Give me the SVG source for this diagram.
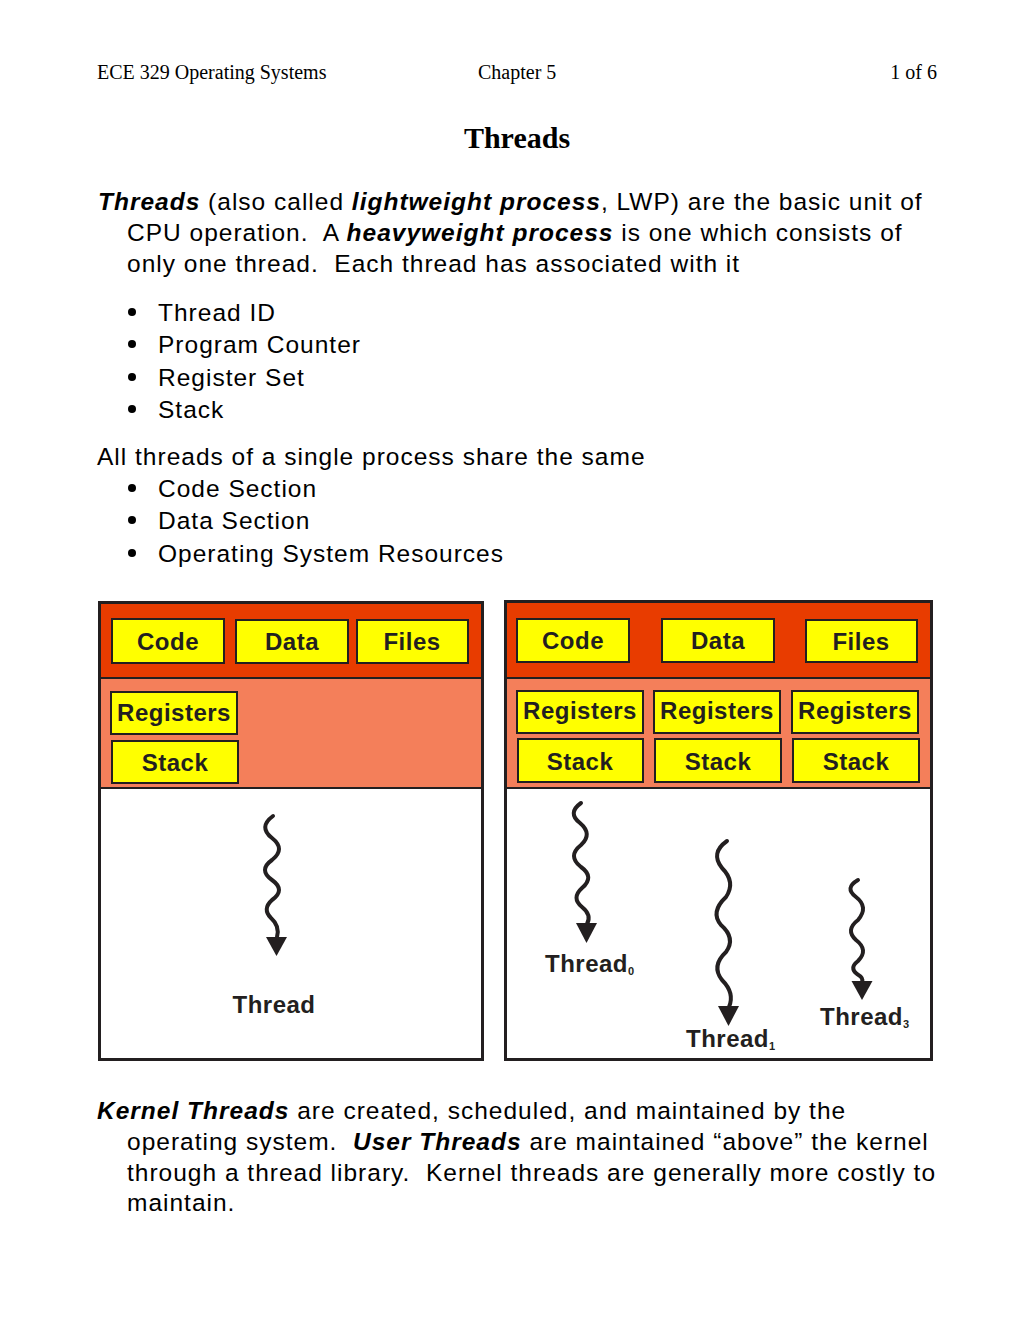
<svg xmlns="http://www.w3.org/2000/svg" width="1020" height="1320" viewBox="0 0 1020 1320">
<style>
.hdr{font-family:"Liberation Serif","Times New Roman",serif;font-size:20px;fill:#000}
.title{font-family:"Liberation Serif","Times New Roman",serif;font-size:30px;font-weight:bold;fill:#000}
.body{font-family:"Liberation Sans",Arial,sans-serif;font-size:24.5px;letter-spacing:1px;fill:#000;white-space:pre}
.bi{font-weight:bold;font-style:italic}
.frame{fill:none;stroke:#231f20;stroke-width:3}
.top{fill:#e83c00}
.mid{fill:#f47f5a}
.div{stroke:#231f20;stroke-width:2}
.box{fill:#ffff00;stroke:#231f20;stroke-width:2}
.lbl{font-family:"Liberation Sans",Arial,sans-serif;font-size:24px;font-weight:bold;letter-spacing:0.5px;fill:#231f20;text-anchor:middle}
.tl{font-family:"Liberation Sans",Arial,sans-serif;font-size:24px;font-weight:bold;letter-spacing:0.5px;fill:#231f20}
.sub{font-size:11px}
.wave{fill:none;stroke:#231f20;stroke-width:4;stroke-linecap:round}
.head{fill:#231f20}
</style>
<rect width="1020" height="1320" fill="#fff"/>
<g id="header">
<text class="hdr" x="97" y="79">ECE 329 Operating Systems</text>
<text class="hdr" x="478" y="79">Chapter 5</text>
<text class="hdr" x="937" y="79" text-anchor="end">1 of 6</text>
<text class="title" x="517" y="148" text-anchor="middle">Threads</text>
</g>
<g id="intro">
<text class="body" xml:space="preserve" x="98" y="210"><tspan class="bi">Threads</tspan> (also called <tspan class="bi">lightweight process</tspan>, LWP) are the basic unit of</text>
<text class="body" xml:space="preserve" x="127" y="241">CPU operation.  A <tspan class="bi">heavyweight process</tspan> is one which consists of</text>
<text class="body" xml:space="preserve" x="127" y="272">only one thread.  Each thread has associated with it</text>
<circle cx="132" cy="312" r="4"/><text class="body" x="158" y="321">Thread ID</text>
<circle cx="132" cy="344" r="4"/><text class="body" x="158" y="353">Program Counter</text>
<circle cx="132" cy="377" r="4"/><text class="body" x="158" y="386">Register Set</text>
<circle cx="132" cy="409" r="4"/><text class="body" x="158" y="418">Stack</text>
<text class="body" x="97" y="465">All threads of a single process share the same</text>
<circle cx="132" cy="488" r="4"/><text class="body" x="158" y="497">Code Section</text>
<circle cx="132" cy="520" r="4"/><text class="body" x="158" y="529">Data Section</text>
<circle cx="132" cy="553" r="4"/><text class="body" x="158" y="562">Operating System Resources</text>
</g>
<g id="single-process">
<rect class="top" x="101" y="604" width="380" height="74"/>
<rect class="mid" x="101" y="678" width="380" height="110"/>
<line class="div" x1="101" y1="678" x2="481" y2="678"/>
<line class="div" x1="101" y1="788" x2="481" y2="788"/>
<rect class="frame" x="99.5" y="602.5" width="383" height="457"/>
<g id="s-code"><rect class="box" x="112" y="619" width="112" height="44"/><text class="lbl" x="168" y="650">Code</text></g>
<g id="s-data"><rect class="box" x="236" y="620" width="112" height="43"/><text class="lbl" x="292" y="650">Data</text></g>
<g id="s-files"><rect class="box" x="357" y="620" width="111" height="43"/><text class="lbl" x="412" y="650">Files</text></g>
<g id="s-reg"><rect class="box" x="111" y="692" width="126" height="42"/><text class="lbl" x="174" y="721">Registers</text></g>
<g id="s-stack"><rect class="box" x="112" y="741" width="126" height="42"/><text class="lbl" x="175" y="771">Stack</text></g>
<g id="s-thread"><text class="tl" x="274" y="1013" text-anchor="middle">Thread</text></g>
</g>
<g id="multi-process">
<rect class="top" x="507" y="603" width="424" height="75"/>
<rect class="mid" x="507" y="678" width="424" height="110"/>
<line class="div" x1="507" y1="678" x2="931" y2="678"/>
<line class="div" x1="507" y1="788" x2="931" y2="788"/>
<rect class="frame" x="505.5" y="601.5" width="426" height="458"/>
<g id="m-code"><rect class="box" x="517" y="619" width="112" height="43"/><text class="lbl" x="573" y="649">Code</text></g>
<g id="m-data"><rect class="box" x="662" y="619" width="112" height="43"/><text class="lbl" x="718" y="649">Data</text></g>
<g id="m-files"><rect class="box" x="806" y="620" width="111" height="42"/><text class="lbl" x="861" y="650">Files</text></g>
<g id="m-reg0"><rect class="box" x="517" y="691" width="126" height="42"/><text class="lbl" x="580" y="719">Registers</text></g>
<g id="m-reg1"><rect class="box" x="654" y="691" width="126" height="42"/><text class="lbl" x="717" y="719">Registers</text></g>
<g id="m-reg2"><rect class="box" x="792" y="691" width="126" height="42"/><text class="lbl" x="855" y="719">Registers</text></g>
<g id="m-stack0"><rect class="box" x="518" y="739" width="125" height="43"/><text class="lbl" x="580" y="770">Stack</text></g>
<g id="m-stack1"><rect class="box" x="655" y="739" width="126" height="43"/><text class="lbl" x="718" y="770">Stack</text></g>
<g id="m-stack2"><rect class="box" x="793" y="739" width="126" height="43"/><text class="lbl" x="856" y="770">Stack</text></g>
<g id="m-thread0"><text class="tl" x="545" y="972">Thread<tspan class="sub" dy="3">0</tspan></text></g>
<g id="m-thread1"><text class="tl" x="686" y="1047">Thread<tspan class="sub" dy="3">1</tspan></text></g>
<g id="m-thread3"><text class="tl" x="820" y="1025">Thread<tspan class="sub" dy="3">3</tspan></text></g>
</g>
<g id="connectors">
<path class="wave" d="M273,816 Q258,827 272,838 Q286,849 272,860 Q258,870 272,880 Q286,890 272,900 Q262,909 271,918 Q280,926 277,937"/>
<polygon class="head" points="266,937 287,937 276.5,956"/>
<path class="wave" d="M581,803 Q567,813 580,823 Q593,834 581,845 Q567,856 581,867 Q595,877 582,888 Q571,898 582,907 Q592,915 587,924"/>
<polygon class="head" points="576,923 597,923 586.5,943"/>
<path class="wave" d="M727,841 Q710,853 722,868 Q736,882 726,897 Q710,912 721,925 Q736,938 726,952 Q711,966 722,980 Q735,993 729,1007"/>
<polygon class="head" points="718,1006 739,1006 728.5,1026"/>
<path class="wave" d="M858,880 Q844,888 856,897 Q869,907 858,920 Q845,930 856,940 Q869,950 858,961 Q849,968 857,974 Q864,978 862,982"/>
<polygon class="head" points="851.5,981 872.5,981 862,1000"/>
</g>
<g id="outro">
<text class="body" xml:space="preserve" x="97" y="1119"><tspan class="bi">Kernel Threads</tspan> are created, scheduled, and maintained by the</text>
<text class="body" xml:space="preserve" x="127" y="1150">operating system.  <tspan class="bi">User Threads</tspan> are maintained “above” the kernel</text>
<text class="body" xml:space="preserve" x="127" y="1181">through a thread library.  Kernel threads are generally more costly to</text>
<text class="body" x="127" y="1211">maintain.</text>
</g>
</svg>
